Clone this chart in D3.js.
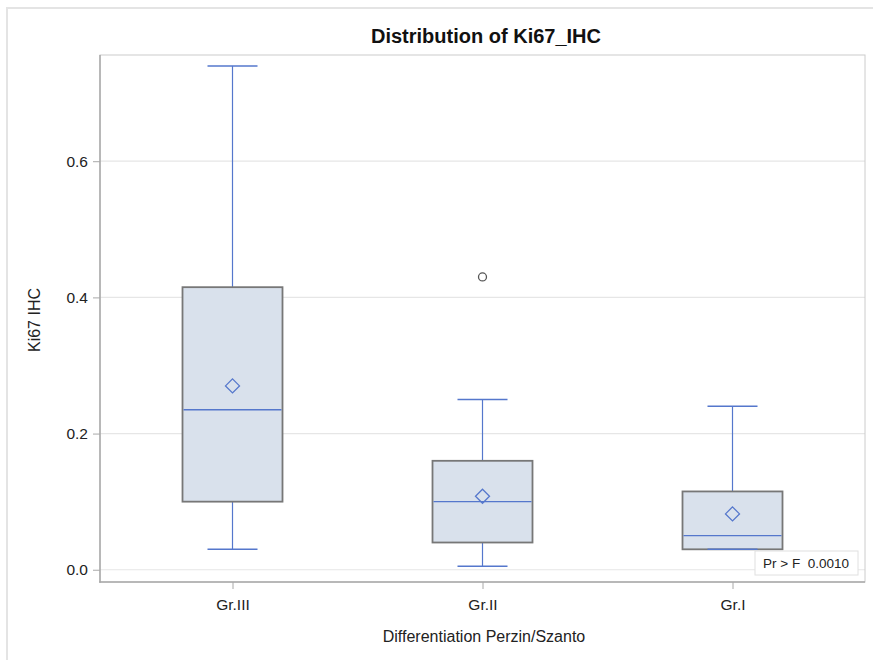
<!DOCTYPE html>
<html>
<head>
<meta charset="utf-8">
<script src="https://cdn.jsdelivr.net/npm/d3@7"></script>
<style>
  html, body { margin: 0; padding: 0; background: #fff; }
  svg { display: block; font-family: "Liberation Sans", Arial, sans-serif; }
</style>
</head>
<body>
<svg id="chart" width="873" height="660"></svg>
<script>
// ---- data ----
const categories = ["Gr.III", "Gr.II", "Gr.I"];
const whiskerLow  = [0.03, 0.005, 0.03];
const q1          = [0.10, 0.04, 0.03];
const medians     = [0.235, 0.10, 0.05];
const q3          = [0.415, 0.16, 0.115];
const whiskerHigh = [0.74, 0.25, 0.24];
const means       = [0.27, 0.108, 0.082];
const outliers    = [[], [0.43], []];
const yTicks      = [0.0, 0.2, 0.4, 0.6];
const title = "Distribution of Ki67_IHC";
const xLabel = "Differentiation Perzin/Szanto";
const yLabel = "Ki67 IHC";
const statText = "Pr > F  0.0010";

const svg = d3.select("#chart");
const W = 873, H = 660;
const plot = { left: 100, right: 865, top: 55, bottom: 582 };

// outer frame
svg.append("rect").attr("x", 7).attr("y", 8).attr("width", W + 10).attr("height", H + 10)
  .attr("fill", "none").attr("stroke", "#e4e4e4").attr("stroke-width", 2);

const x = d3.scalePoint().domain(categories).range([plot.left, plot.right]).padding(0.53);
const y = d3.scaleLinear().domain([-0.018, 0.756]).range([plot.bottom, plot.top]);

// gridlines
svg.append("g").selectAll("line").data(yTicks).join("line")
  .attr("x1", plot.left).attr("x2", plot.right)
  .attr("y1", d => y(d)).attr("y2", d => y(d))
  .attr("stroke", "#e6e6e6").attr("stroke-width", 1.2);

// plot frame (top/right lighter)
svg.append("rect").attr("x", plot.left).attr("y", plot.top)
  .attr("width", plot.right - plot.left).attr("height", plot.bottom - plot.top)
  .attr("fill", "none").attr("stroke", "#cccccc").attr("stroke-width", 1);

// axes
const yAxis = d3.axisLeft(y).tickValues(yTicks).tickFormat(d3.format(".1f")).tickSizeOuter(0).tickSize(7).tickPadding(5);
const gy = svg.append("g").attr("transform", `translate(${plot.left},0)`).call(yAxis);
gy.select(".domain").remove();
gy.selectAll(".tick line").attr("stroke", "#a8a8a8");
gy.selectAll(".tick text").attr("font-size", 15.5).attr("fill", "#222").attr("font-family", "Liberation Sans, Arial, sans-serif");

const xAxis = d3.axisBottom(x).tickSizeOuter(0).tickSize(7).tickPadding(10);
const gx = svg.append("g").attr("transform", `translate(0,${plot.bottom})`).call(xAxis);
gx.select(".domain").remove();
gx.selectAll(".tick line").attr("stroke", "#a8a8a8");
gx.selectAll(".tick text").attr("font-size", 15.5).attr("fill", "#222").attr("font-family", "Liberation Sans, Arial, sans-serif");

// axis lines
svg.append("line").attr("x1", plot.left).attr("x2", plot.left).attr("y1", plot.top).attr("y2", plot.bottom + 0.75)
  .attr("stroke", "#a8a8a8").attr("stroke-width", 1.5);
svg.append("line").attr("x1", plot.left - 0.75).attr("x2", plot.right).attr("y1", plot.bottom).attr("y2", plot.bottom)
  .attr("stroke", "#a8a8a8").attr("stroke-width", 1.5);

// boxes
const step = x.step();
const boxW = step * 0.4;
const capW = boxW * 0.5;
const blue = "#5577cc";
const idx = d3.range(categories.length);
const g = svg.append("g");

// whiskers
g.selectAll(".wl").data(idx).join("line")
  .attr("x1", i => x(categories[i])).attr("x2", i => x(categories[i]))
  .attr("y1", i => y(q1[i])).attr("y2", i => y(whiskerLow[i]))
  .attr("stroke", blue).attr("stroke-width", 1.2);
g.selectAll(".wh").data(idx).join("line")
  .attr("x1", i => x(categories[i])).attr("x2", i => x(categories[i]))
  .attr("y1", i => y(q3[i])).attr("y2", i => y(whiskerHigh[i]))
  .attr("stroke", blue).attr("stroke-width", 1.2);

// box
g.selectAll(".box").data(idx).join("rect")
  .attr("x", i => x(categories[i]) - boxW / 2)
  .attr("width", boxW)
  .attr("y", i => y(q3[i]))
  .attr("height", i => y(q1[i]) - y(q3[i]))
  .attr("fill", "#d9e1ec").attr("stroke", "#777").attr("stroke-width", 1.8);

// caps
g.selectAll(".capl").data(idx).join("line")
  .attr("x1", i => x(categories[i]) - capW / 2).attr("x2", i => x(categories[i]) + capW / 2)
  .attr("y1", i => y(whiskerLow[i])).attr("y2", i => y(whiskerLow[i]))
  .attr("stroke", blue).attr("stroke-width", 1.5);
g.selectAll(".caph").data(idx).join("line")
  .attr("x1", i => x(categories[i]) - capW / 2).attr("x2", i => x(categories[i]) + capW / 2)
  .attr("y1", i => y(whiskerHigh[i])).attr("y2", i => y(whiskerHigh[i]))
  .attr("stroke", blue).attr("stroke-width", 1.5);

// median
g.selectAll(".med").data(idx).join("line")
  .attr("x1", i => x(categories[i]) - boxW / 2 + 1).attr("x2", i => x(categories[i]) + boxW / 2 - 1)
  .attr("y1", i => y(medians[i])).attr("y2", i => y(medians[i]))
  .attr("stroke", blue).attr("stroke-width", 1.3);

// mean diamond
const ds = 7;
g.selectAll(".mean").data(idx).join("path")
  .attr("d", i => {
    const cx = x(categories[i]), cy = y(means[i]);
    return `M${cx},${cy - ds}L${cx + ds},${cy}L${cx},${cy + ds}L${cx - ds},${cy}Z`;
  })
  .attr("fill", "none").attr("stroke", blue).attr("stroke-width", 1.3);

// outliers
const outData = [];
outliers.forEach((arr, i) => arr.forEach(v => outData.push({ c: categories[i], v })));
g.selectAll(".out").data(outData).join("circle")
  .attr("cx", d => x(d.c)).attr("cy", d => y(d.v)).attr("r", 4)
  .attr("fill", "none").attr("stroke", "#555").attr("stroke-width", 1.3);

// stat inset
const stat = svg.append("g");
stat.append("rect").attr("x", 755).attr("y", 551).attr("width", 103).attr("height", 24)
  .attr("fill", "#fff").attr("stroke", "#e0e0e0");
stat.append("text").attr("x", 806).attr("y", 568).attr("text-anchor", "middle")
  .attr("font-size", 13.5).attr("fill", "#222").style("white-space", "pre").text(statText);

// title and labels
svg.append("text").attr("x", 486).attr("y", 43).attr("text-anchor", "middle")
  .attr("font-size", 20).attr("font-weight", "bold").attr("fill", "#111").text(title);
svg.append("text").attr("x", 484).attr("y", 642).attr("text-anchor", "middle")
  .attr("font-size", 16).attr("fill", "#222").text(xLabel);
svg.append("text").attr("transform", "translate(40,320) rotate(-90)").attr("text-anchor", "middle")
  .attr("font-size", 16).attr("fill", "#222").text(yLabel);
</script>
</body>
</html>
